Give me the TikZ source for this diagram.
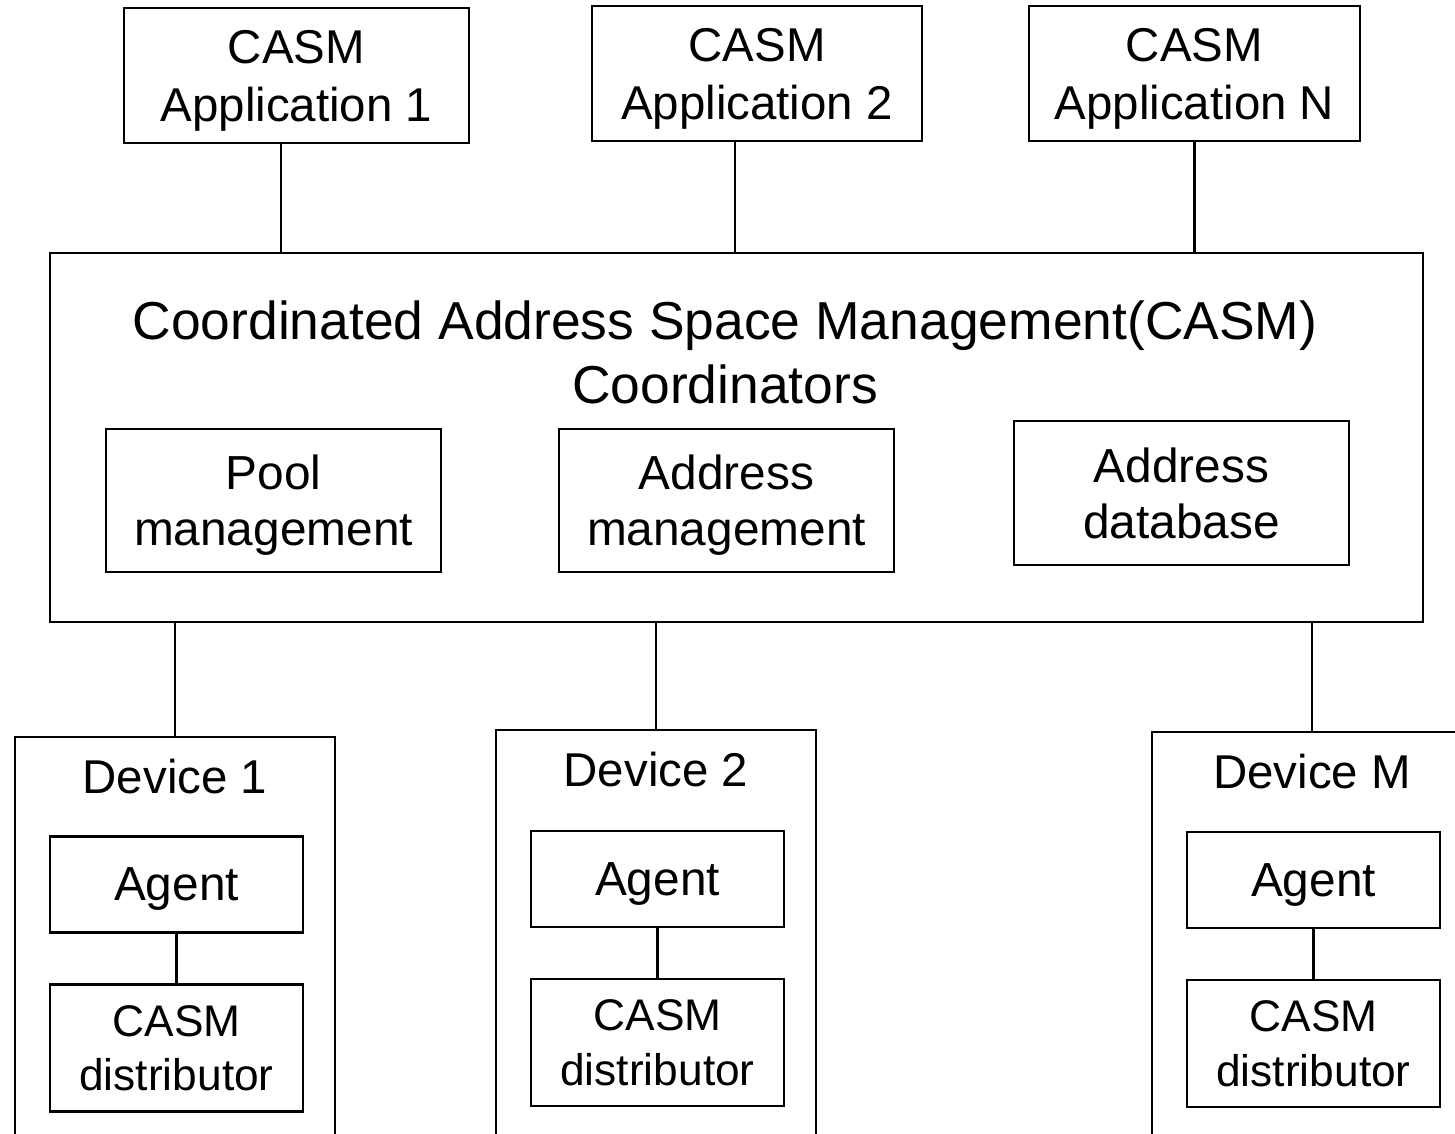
\documentclass[tikz,border=0pt]{standalone}
\usepackage{fontspec}
\setmainfont{Liberation Sans}
\usetikzlibrary{positioning,calc}

\begin{document}
\begin{tikzpicture}[
		x=0.1mm, y=-0.1mm,
		line width=0.6pt,
		box/.style={
			draw, inner sep=0pt, align=center, text depth=0pt
		},
		appbox/.style={box, minimum height=13.5mm, font=\fontsize{13.5}{16.5}\selectfont},
		subbox/.style={box, minimum width=33.5mm, font=\fontsize{13.6}{16}\selectfont},
		devbox/.style={box, minimum width=32mm},
		agentbox/.style={box, minimum width=25.3mm, minimum height=9.6mm, font=\fontsize{13.6}{16}\selectfont},
		distbox/.style={box, minimum width=25.3mm, minimum height=12.7mm, font=\fontsize{12.6}{15.4}\selectfont},
		devlbl/.style={font=\fontsize{13.5}{16}\selectfont, inner sep=0pt}
		]
		\path[use as bounding box] (0,0) rectangle (1455,1134);
		\clip (0,0) rectangle (1455,1134);
		
		% ---- Anwendungen oben
		\node[appbox, minimum width=34.5mm] (app1) at (296.5,75.5) {CASM\\Application 1};
		\node[appbox, minimum width=33mm]   (app2) at (757,73.5)   {CASM\\Application 2};
		\node[appbox, minimum width=33.1mm] (appn) at (1194.5,73.5) {CASM\\Application N};
		
		% ---- Koordinator in der Mitte
		\node[box, minimum width=137.3mm, minimum height=36.9mm] (casm) at (736.5,437.5) {};
		\node[font=\fontsize{15.2}{18.2}\selectfont, align=center] (title) at (725,352)
			{Coordinated Address Space Management(CASM)\\Coordinators};
		\node[subbox, minimum height=14.3mm] (pool) at (273.5,500.5) {Pool\\management};
		\node[subbox, minimum height=14.3mm] (amgr) at (726.5,500.5) {Address\\management};
		\node[subbox, minimum height=14.4mm] (adb)  at (1181.5,493)  {Address\\database};
		
		% ---- Geräte unten (laufen über den Rand hinaus)
		\node[devbox, minimum height=46.3mm] (dev1) at (175,968.5) {};
		\node[devbox, minimum height=47mm]   (dev2) at (656,965)   {};
		\node[devbox, minimum height=46.8mm] (devm) at (1312,966)  {};
		\node[devlbl] (dev1lbl) at ([yshift=-4.1mm]dev1.north) {Device 1};
		\node[devlbl] (dev2lbl) at ([yshift=-4.1mm]dev2.north) {Device 2};
		\node[devlbl] (devmlbl) at ([yshift=-4.1mm]devm.north) {Device M};
		
		\node[agentbox] (agent1) at (176.5,884.5) {Agent};
		\node[distbox]  (dist1)  at (176.5,1048)  {CASM\\distributor};
		\node[agentbox] (agent2) at (657.5,879)   {Agent};
		\node[distbox]  (dist2)  at (657.5,1042.5) {CASM\\distributor};
		\node[agentbox] (agentm) at (1313.5,880)  {Agent};
		\node[distbox]  (distm)  at (1313.5,1043.5) {CASM\\distributor};
		
		% ---- Verbindungen
		\draw ([xshift=-1.55mm]app1.south) -- ([xshift=-1.55mm]app1.south |- casm.north);
		\draw ([xshift=-2.2mm]app2.south) -- ([xshift=-2.2mm]app2.south |- casm.north);
		\draw (appn.south) -- (appn.south |- casm.north);
		
		\draw (dev1.north) -- (dev1.north |- casm.south);
		\draw (dev2.north) -- (dev2.north |- casm.south);
		\draw (devm.north) -- (devm.north |- casm.south);
		
		\draw (agent1) -- (dist1);
		\draw (agent2) -- (dist2);
		\draw (agentm) -- (distm);
	\end{tikzpicture}
\end{document}
